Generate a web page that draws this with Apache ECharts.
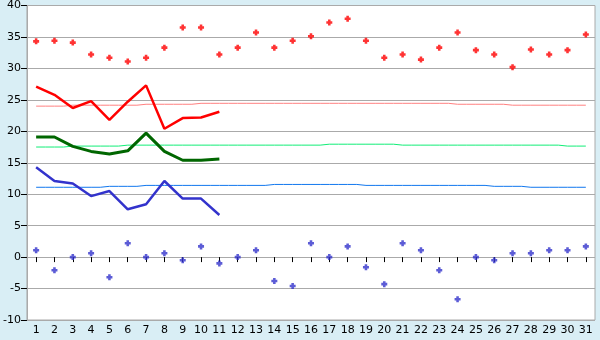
<!DOCTYPE html>
<html>
<head>
<meta charset="utf-8">
<script src="https://cdn.jsdelivr.net/npm/echarts@6/dist/echarts.min.js"></script>
<style>
    html, body { margin: 0; padding: 0; background: #d9eef5; }
    #chart { width: 600px; height: 340px; }
</style>
</head>
<body>
<div id="chart"></div>
<script>
// days of the month
const days = [];
for (let d = 1; d <= 31; d++) {
    days.push(String(d));
}

// daily max / min (diamonds)
const maxTemp = [34.3, 34.4, 34.1, 32.2, 31.7, 31.1, 31.7, 33.3, 36.5, 36.5,
    32.2, 33.3, 35.7, 33.3, 34.4, 35.1, 37.3, 37.9, 34.4, 31.7,
    32.2, 31.4, 33.3, 35.7, 32.9, 32.2, 30.2, 33.0, 32.2, 32.9, 35.4];
const minTemp = [1.1, -2.1, 0, 0.6, -3.2, 2.2, 0, 0.6, -0.5, 1.7,
    -1.0, 0, 1.1, -3.8, -4.6, 2.2, 0, 1.7, -1.6, -4.3,
    2.2, 1.1, -2.1, -6.7, 0, -0.5, 0.6, 0.6, 1.1, 1.1, 1.7];

// this month's running lines
const highLine = [27.1, 25.8, 23.7, 24.8, 21.8, 24.7, 27.3, 20.4, 22.1, 22.2, 23.1];
const meanLine = [19.1, 19.1, 17.6, 16.8, 16.4, 16.9, 19.7, 16.8, 15.4, 15.4, 15.6];
const lowLine = [14.3, 12.1, 11.7, 9.7, 10.5, 7.6, 8.4, 12.1, 9.3, 9.3, 6.7];

// long-term averages
const avgHigh = [24.0, 24.0, 24.15, 24.15, 24.15, 24.15, 24.3, 24.3, 24.3, 24.45,
    24.45, 24.45, 24.45, 24.45, 24.45, 24.45, 24.45, 24.45, 24.45, 24.45,
    24.45, 24.45, 24.45, 24.3, 24.3, 24.3, 24.15, 24.15, 24.15, 24.15, 24.15];
const avgMean = [17.5, 17.5, 17.65, 17.65, 17.65, 17.8, 17.8, 17.8, 17.8, 17.8,
    17.8, 17.8, 17.8, 17.8, 17.8, 17.8, 17.95, 17.95, 17.95, 17.95,
    17.8, 17.8, 17.8, 17.8, 17.8, 17.8, 17.8, 17.8, 17.8, 17.65, 17.65];
const avgLow = [11.1, 11.1, 11.1, 11.1, 11.25, 11.25, 11.4, 11.4, 11.4, 11.4,
    11.4, 11.4, 11.4, 11.55, 11.55, 11.55, 11.55, 11.55, 11.4, 11.4,
    11.4, 11.4, 11.4, 11.4, 11.4, 11.25, 11.25, 11.1, 11.1, 11.1, 11.1];

const yTicks = { min: -10, max: 40, step: 5 };

// pixel-ish plus marker
const plusMark = 'path://M2,0L5,0L5,2L7,2L7,5L5,5L5,7L2,7L2,5L0,5L0,2L2,2Z';

const avgSeries = (data, color) => ({
    type: 'line',
    data: data,
    step: 'middle',
    symbol: 'none',
    silent: true,
    lineStyle: { color: color, width: 1 },
    z: 2
});

const runSeries = (data, color, width) => ({
    type: 'line',
    data: data,
    symbol: 'none',
    silent: true,
    lineStyle: { color: color, width: width },
    z: 3
});

const dotSeries = (data, color) => ({
    type: 'scatter',
    data: data,
    symbol: plusMark,
    symbolSize: 6,
    itemStyle: { color: color },
    z: 4
});

const chart = echarts.init(document.getElementById('chart'));

chart.setOption({
    animation: false,
    backgroundColor: '#d9eef5',
    textStyle: { fontFamily: 'DejaVu Sans' },
    grid: {
        left: 26,
        right: 5,
        top: 5,
        bottom: 20,
        show: true,
        backgroundColor: '#ffffff',
        borderColor: '#aaaaaa',
        borderWidth: 1
    },
    xAxis: {
        type: 'category',
        data: days,
        boundaryGap: true,
        axisLine: { show: false },
        axisTick: {
            show: true,
            alignWithLabel: true,
            length: 5,
            lineStyle: { color: '#000' }
        },
        axisLabel: { color: '#000', fontSize: 11, margin: 5, interval: 0 },
        splitLine: { show: false }
    },
    yAxis: {
        type: 'value',
        min: yTicks.min,
        max: yTicks.max,
        interval: yTicks.step,
        axisLine: { show: true, lineStyle: { color: '#aaaaaa' } },
        axisTick: { show: true, length: 6, lineStyle: { color: '#000' } },
        axisLabel: { color: '#000', fontSize: 11, margin: 6 },
        splitLine: { show: true, lineStyle: { color: '#aaaaaa', width: 1 } }
    },
    series: [
        avgSeries(avgHigh, '#ff8080'),
        avgSeries(avgMean, '#11ee77'),
        avgSeries(avgLow, '#1177ee'),
        runSeries(highLine, '#ff0000', 2.5),
        runSeries(meanLine, '#006600', 3),
        runSeries(lowLine, '#3333cc', 2.5),
        dotSeries(maxTemp, '#ff0000'),
        dotSeries(minTemp, '#3333cc')
    ]
});
</script>
</body>
</html>
